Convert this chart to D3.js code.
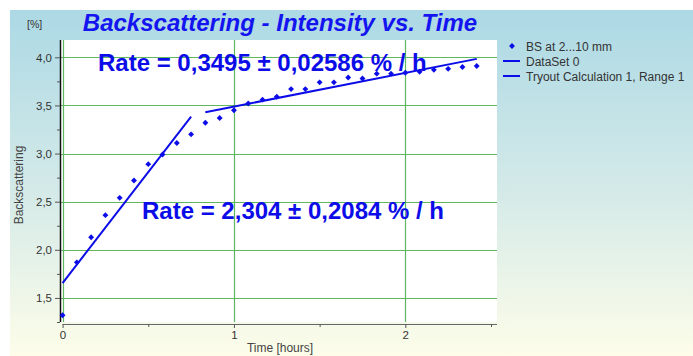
<!DOCTYPE html>
<html>
<head>
<meta charset="utf-8">
<script src="https://cdn.jsdelivr.net/npm/d3@7"></script>
<style>
  body { margin: 0; background: #fff; }
  svg { display: block; font-family: "Liberation Sans", Arial, sans-serif; }
</style>
</head>
<body>
<div id="chart"></div>
<script>
// measured points, one every 5 minutes
const minutes = [0, 5, 10, 15, 20, 25, 30, 35, 40, 45, 50, 55, 60, 65, 70, 75, 80, 85, 90, 95,
                 100, 105, 110, 115, 120, 125, 130, 135, 140, 145];
const bsValues = [1.32, 1.87, 2.13, 2.36, 2.54, 2.72, 2.89, 2.99, 3.11, 3.20,
                  3.32, 3.37, 3.45, 3.52, 3.56, 3.59, 3.67, 3.67, 3.74, 3.74,
                  3.79, 3.78, 3.83, 3.83, 3.84, 3.85, 3.87, 3.88, 3.90, 3.91];

// the two fitted ranges (start, end)
const fit1T = [0, 0.75];
const fit1Y = [1.655, 3.383];
const fit2T = [0.833, 2.417];
const fit2Y = [3.43, 3.984];

const yTicks = [1.5, 2.0, 2.5, 3.0, 3.5, 4.0];
const yMinor = [1.25, 1.75, 2.25, 2.75, 3.25, 3.75];
const xTicks = [0, 1, 2];
const xMinor = [0.5, 1.5, 2.5];
const legendItems = ["BS at 2...10 mm", "DataSet 0", "Tryout Calculation 1, Range 1"];

const W = 693, H = 356;
const plot = { left: 60, right: 497, top: 40, bottom: 322 };
const blue = "#0c0ce8";

const svg = d3.select("#chart").append("svg")
  .attr("width", W).attr("height", H);

// background gradient
const grad = svg.append("defs").append("linearGradient")
  .attr("id", "bg").attr("x1", 0).attr("y1", 0).attr("x2", 0).attr("y2", 1);
grad.append("stop").attr("offset", "0%").attr("stop-color", "#acd9e5");
grad.append("stop").attr("offset", "50%").attr("stop-color", "#d2e9e8");
grad.append("stop").attr("offset", "100%").attr("stop-color", "#fdfde9");

svg.append("rect").attr("x", 10).attr("y", 10)
  .attr("width", W - 10).attr("height", H - 10)
  .attr("fill", "url(#bg)");

svg.append("rect")
  .attr("x", plot.left).attr("y", plot.top)
  .attr("width", plot.right - plot.left).attr("height", plot.bottom - plot.top)
  .attr("fill", "#fff");

const x = d3.scaleLinear().domain([-0.015, 2.535]).range([plot.left, plot.right]);
const y = d3.scaleLinear().domain([1.25, 4.18]).range([plot.bottom, plot.top]);

// grid
svg.append("g").selectAll("line").data(yTicks).join("line")
  .attr("x1", plot.left).attr("x2", plot.right)
  .attr("y1", d => Math.round(y(d)) + 0.5).attr("y2", d => Math.round(y(d)) + 0.5)
  .attr("stroke", "#5fb85f").attr("stroke-width", 1.2);
svg.append("g").selectAll("line").data(xTicks).join("line")
  .attr("y1", plot.top).attr("y2", plot.bottom)
  .attr("x1", d => Math.round(x(d)) + 0.5).attr("x2", d => Math.round(x(d)) + 0.5)
  .attr("stroke", "#5fb85f").attr("stroke-width", 1.2);

// y axis
const fmt = d => d3.format(".1f")(d).replace(".", ",");
const yAxis = svg.append("g")
  .attr("transform", `translate(${plot.left},0)`)
  .call(d3.axisLeft(y).tickValues(yTicks).tickFormat(fmt).tickSize(5).tickPadding(3));
yAxis.select(".domain").attr("d", `M0.5,${plot.top}V${plot.bottom}`).attr("stroke", "#111").attr("stroke-width", 1.5);
yAxis.selectAll(".tick line").attr("stroke", "#555");
yAxis.selectAll("text").attr("font-size", 11.5).attr("fill", "#333")
  .attr("font-family", "Liberation Sans, Arial, sans-serif");
svg.append("g").attr("transform", `translate(${plot.left},0)`)
  .call(d3.axisLeft(y).tickValues(yMinor).tickFormat("").tickSize(3))
  .call(g => g.select(".domain").remove())
  .selectAll(".tick line").attr("stroke", "#555");

// x axis
const xAxis = svg.append("g")
  .attr("transform", `translate(0,${plot.bottom + 2})`)
  .call(d3.axisBottom(x).tickValues(xTicks).tickFormat(d3.format("d")).tickSize(4).tickPadding(3));
xAxis.select(".domain").attr("d", `M${x(0)},0.5H${plot.right}`).attr("stroke", "#666").attr("stroke-width", 1.2);
xAxis.selectAll(".tick line").attr("stroke", "#555");
xAxis.selectAll("text").attr("font-size", 11.5).attr("fill", "#333")
  .attr("font-family", "Liberation Sans, Arial, sans-serif");
svg.append("g").attr("transform", `translate(0,${plot.bottom + 2})`)
  .call(d3.axisBottom(x).tickValues(xMinor).tickFormat("").tickSize(3))
  .call(g => g.select(".domain").remove())
  .selectAll(".tick line").attr("stroke", "#555");

// fit lines
const line = d3.line().x(d => x(d[0])).y(d => y(d[1]));
[[fit1T, fit1Y], [fit2T, fit2Y]].forEach(([ts, ys]) => {
  svg.append("path")
    .attr("d", line(d3.zip(ts, ys)))
    .attr("fill", "none").attr("stroke", blue).attr("stroke-width", 2);
});

// data points (diamonds)
const diamond = d3.symbol().type(d3.symbolDiamond2).size(22);
svg.append("g").selectAll("path").data(d3.zip(minutes, bsValues)).join("path")
  .attr("transform", d => `translate(${x(d[0] / 60)},${y(d[1])})`)
  .attr("d", diamond)
  .attr("fill", blue);

// annotations
svg.append("text").attr("x", 98).attr("y", 71)
  .attr("font-size", 24).attr("font-weight", "bold").attr("fill", blue)
  .text("Rate = 0,3495 ± 0,02586 % / h");
svg.append("text").attr("x", 142).attr("y", 219)
  .attr("font-size", 24).attr("font-weight", "bold").attr("fill", blue)
  .text("Rate = 2,304 ± 0,2084 % / h");

// title
svg.append("text").attr("x", 280).attr("y", 31).attr("text-anchor", "middle")
  .attr("font-size", 24).attr("font-weight", "bold").attr("font-style", "italic")
  .attr("fill", "#1414f0")
  .text("Backscattering - Intensity vs. Time");

svg.append("text").attr("x", 27).attr("y", 28)
  .attr("font-size", 10.5).attr("fill", "#333").text("[%]");

svg.append("text")
  .attr("transform", `translate(23,185) rotate(-90)`)
  .attr("text-anchor", "middle").attr("font-size", 12).attr("fill", "#444")
  .text("Backscattering");

svg.append("text").attr("x", 280).attr("y", 352).attr("text-anchor", "middle")
  .attr("font-size", 12).attr("fill", "#444").text("Time [hours]");

// legend
const leg = svg.append("g").attr("transform", "translate(503,46)");
legendItems.forEach((name, i) => {
  const g = leg.append("g").attr("transform", `translate(0,${i * 15})`);
  if (i === 0) {
    g.append("path").attr("transform", "translate(9,0)").attr("d", diamond).attr("fill", blue);
  } else {
    g.append("line").attr("x1", 0).attr("x2", 17).attr("y1", 0).attr("y2", 0)
      .attr("stroke", blue).attr("stroke-width", 2);
  }
  g.append("text").attr("x", 23).attr("y", 4.5)
    .attr("font-size", 12).attr("fill", "#333").text(name);
});
</script>
</body>
</html>
